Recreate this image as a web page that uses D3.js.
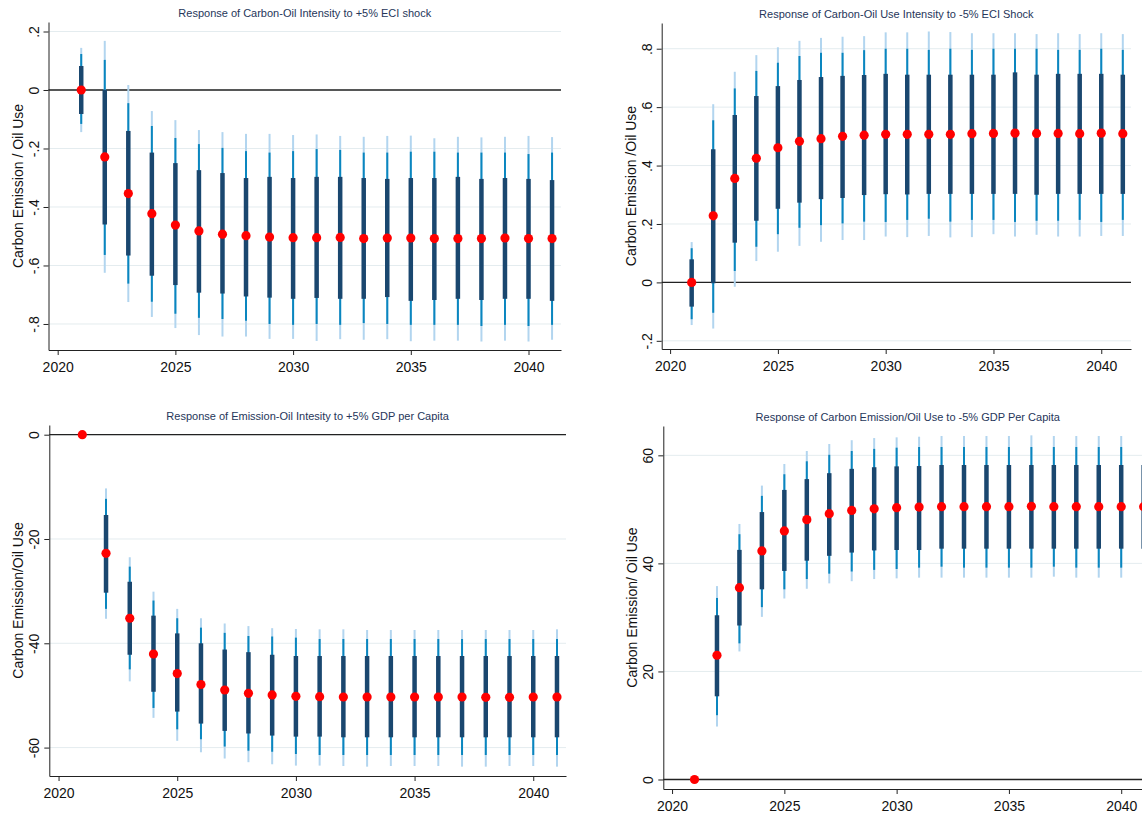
<!DOCTYPE html>
<html>
<head>
<meta charset="utf-8">
<script src="https://cdn.jsdelivr.net/npm/d3@7"></script>
<style>
  body { margin: 0; background: #ffffff; }
  svg { display: block; font-family: "Liberation Sans", Arial, Helvetica, sans-serif; }
</style>
</head>
<body>
<svg id="chart" width="1142" height="814"></svg>
<script>
// Horizon years of the impulse responses
const years = [2021, 2022, 2023, 2024, 2025, 2026, 2027, 2028, 2029, 2030, 2031,
               2032, 2033, 2034, 2035, 2036, 2037, 2038, 2039, 2040, 2041];
const xTickYears = [2020, 2025, 2030, 2035, 2040];

const panelTitles = [
  "Response of Carbon-Oil Intensity to +5% ECI shock",
  "Response of Carbon-Oil Use Intensity to -5% ECI Shock",
  "Response of Emission-Oil Intesity to +5% GDP per Capita",
  "Response of Carbon Emission/Oil Use to -5% GDP Per Capita"
];
const yTitles = [
  "Carbon Emission / Oil Use",
  "Carbon Emission /Oil Use",
  "Carbon Emission/Oil Use",
  "Carbon Emission/ Oil Use"
];

// y-axis ticks and their labels
const eciUpTicks = [0.2, 0, -0.2, -0.4, -0.6, -0.8];
const eciUpTickLabels = [".2", "0", "-.2", "-.4", "-.6", "-.8"];
const eciDownTicks = [0.8, 0.6, 0.4, 0.2, 0, -0.2];
const eciDownTickLabels = [".8", ".6", ".4", ".2", "0", "-.2"];
const gdpUpTicks = [0, -20, -40, -60];
const gdpUpTickLabels = ["0", "-20", "-40", "-60"];
const gdpDownTicks = [60, 40, 20, 0];
const gdpDownTickLabels = ["60", "40", "20", "0"];

// +5% ECI shock: point estimate and confidence bands
const eciUpEst  = [0, -0.229, -0.354, -0.423, -0.462, -0.482, -0.493, -0.498, -0.503, -0.505, -0.505, -0.504, -0.508, -0.506, -0.506, -0.508, -0.508, -0.508, -0.506, -0.508, -0.508];
const eciUpHi68 = [0.082, 0.000, -0.140, -0.214, -0.250, -0.274, -0.284, -0.301, -0.297, -0.301, -0.297, -0.297, -0.301, -0.304, -0.301, -0.301, -0.297, -0.304, -0.301, -0.304, -0.308];
const eciUpLo68 = [-0.082, -0.460, -0.566, -0.635, -0.667, -0.693, -0.696, -0.706, -0.710, -0.714, -0.711, -0.714, -0.714, -0.708, -0.721, -0.718, -0.714, -0.718, -0.714, -0.714, -0.721];
const eciUpHi90 = [0.123, 0.103, -0.045, -0.123, -0.164, -0.185, -0.198, -0.209, -0.214, -0.209, -0.202, -0.205, -0.214, -0.214, -0.211, -0.211, -0.214, -0.214, -0.214, -0.219, -0.214];
const eciUpLo90 = [-0.116, -0.564, -0.662, -0.724, -0.765, -0.779, -0.783, -0.789, -0.800, -0.803, -0.800, -0.803, -0.797, -0.800, -0.803, -0.803, -0.803, -0.807, -0.803, -0.807, -0.803];
const eciUpHi95 = [0.144, 0.168, 0.017, -0.072, -0.103, -0.137, -0.144, -0.150, -0.150, -0.154, -0.152, -0.157, -0.160, -0.157, -0.156, -0.165, -0.160, -0.162, -0.160, -0.157, -0.161];
const eciUpLo95 = [-0.144, -0.625, -0.725, -0.776, -0.814, -0.838, -0.843, -0.843, -0.851, -0.851, -0.858, -0.852, -0.854, -0.852, -0.859, -0.857, -0.857, -0.860, -0.857, -0.860, -0.854];

// -5% ECI shock
const eciDownEst  = [0, 0.228, 0.356, 0.425, 0.461, 0.483, 0.492, 0.500, 0.504, 0.507, 0.507, 0.507, 0.507, 0.509, 0.510, 0.511, 0.510, 0.510, 0.509, 0.511, 0.509];
const eciDownHi68 = [0.079, 0.456, 0.573, 0.638, 0.672, 0.693, 0.703, 0.707, 0.710, 0.714, 0.711, 0.711, 0.711, 0.711, 0.711, 0.719, 0.711, 0.714, 0.714, 0.714, 0.711];
const eciDownLo68 = [-0.083, -0.003, 0.136, 0.211, 0.252, 0.273, 0.285, 0.289, 0.299, 0.302, 0.301, 0.303, 0.303, 0.303, 0.303, 0.303, 0.300, 0.303, 0.303, 0.303, 0.303];
const eciDownHi90 = [0.117, 0.555, 0.664, 0.724, 0.752, 0.775, 0.786, 0.786, 0.795, 0.800, 0.800, 0.796, 0.800, 0.796, 0.800, 0.800, 0.800, 0.796, 0.796, 0.800, 0.796];
const eciDownLo90 = [-0.126, -0.104, 0.039, 0.122, 0.165, 0.187, 0.196, 0.202, 0.208, 0.207, 0.214, 0.218, 0.208, 0.214, 0.214, 0.207, 0.211, 0.211, 0.214, 0.207, 0.214];
const eciDownHi95 = [0.138, 0.610, 0.721, 0.778, 0.805, 0.827, 0.837, 0.841, 0.843, 0.856, 0.856, 0.859, 0.857, 0.853, 0.853, 0.853, 0.850, 0.853, 0.850, 0.853, 0.850];
const eciDownLo95 = [-0.146, -0.158, -0.015, 0.073, 0.105, 0.125, 0.139, 0.145, 0.145, 0.157, 0.155, 0.159, 0.154, 0.155, 0.165, 0.157, 0.163, 0.157, 0.157, 0.159, 0.159];

// +5% GDP per capita shock
const gdpUpEst  = [0, -22.75, -35.2, -42.05, -45.8, -47.9, -48.96, -49.6, -49.9, -50.17, -50.24, -50.3, -50.3, -50.3, -50.3, -50.3, -50.3, -50.36, -50.36, -50.3, -50.3];
const gdpUpHi68 = [0, -15.4, -28.2, -34.7, -38.1, -40.0, -41.2, -41.7, -42.2, -42.44, -42.44, -42.44, -42.44, -42.44, -42.44, -42.44, -42.44, -42.44, -42.44, -42.44, -42.44];
const gdpUpLo68 = [0, -30.3, -42.2, -49.3, -53.1, -55.4, -56.8, -57.3, -57.7, -57.9, -57.9, -58.03, -58.03, -58.03, -58.03, -58.03, -58.03, -58.03, -58.03, -58.03, -58.03];
const gdpUpHi90 = [0, -12.3, -25.3, -31.8, -35.2, -37.0, -38.0, -38.6, -38.7, -38.92, -39.18, -39.18, -39.18, -39.18, -39.18, -39.18, -39.18, -39.18, -39.18, -39.18, -39.18];
const gdpUpLo90 = [0, -33.4, -45.0, -52.4, -56.5, -58.4, -59.8, -60.6, -60.8, -61.23, -61.42, -61.42, -61.42, -61.42, -61.42, -61.42, -61.42, -61.42, -61.42, -61.42, -61.42];
const gdpUpHi95 = [0, -10.3, -23.5, -30.1, -33.4, -35.2, -36.2, -36.7, -37.1, -37.26, -37.32, -37.32, -37.45, -37.45, -37.45, -37.45, -37.45, -37.45, -37.45, -37.45, -37.32];
const gdpUpLo95 = [0, -35.3, -47.3, -54.3, -58.7, -60.9, -62.1, -62.8, -63.2, -63.46, -63.46, -63.53, -63.66, -63.53, -63.53, -63.53, -63.66, -63.66, -63.53, -63.53, -63.66];

// -5% GDP per capita shock
const gdpDownEst  = [0, 23.0, 35.5, 42.3, 46.0, 48.1, 49.2, 49.8, 50.1, 50.31, 50.43, 50.5, 50.5, 50.5, 50.5, 50.56, 50.5, 50.5, 50.5, 50.5, 50.5];
const gdpDownHi68 = [0, 30.4, 42.5, 49.5, 53.6, 55.6, 56.7, 57.5, 57.8, 57.96, 58.02, 58.21, 58.21, 58.21, 58.21, 58.21, 58.21, 58.21, 58.21, 58.21, 58.21];
const gdpDownLo68 = [0, 15.4, 28.5, 35.2, 38.6, 40.5, 41.4, 42.0, 42.4, 42.48, 42.48, 42.72, 42.72, 42.72, 42.72, 42.72, 42.72, 42.72, 42.72, 42.72, 42.72];
const gdpDownHi90 = [0, 33.6, 45.4, 52.5, 56.5, 58.9, 60.1, 60.8, 61.2, 61.42, 61.54, 61.54, 61.54, 61.54, 61.54, 61.54, 61.54, 61.54, 61.54, 61.54, 61.54];
const gdpDownLo90 = [0, 11.9, 25.2, 31.9, 35.2, 37.1, 38.1, 38.5, 38.8, 38.96, 39.21, 39.39, 39.21, 39.21, 39.21, 39.21, 39.39, 39.21, 39.21, 39.21, 39.21];
const gdpDownHi95 = [0, 35.8, 47.3, 54.4, 58.4, 60.8, 62.1, 62.8, 63.2, 63.33, 63.45, 63.58, 63.58, 63.58, 63.58, 63.70, 63.58, 63.58, 63.58, 63.58, 63.58];
const gdpDownLo95 = [0, 9.8, 23.7, 30.1, 33.5, 35.3, 36.3, 36.7, 37.1, 37.23, 37.36, 37.36, 37.36, 37.36, 37.36, 37.36, 37.54, 37.36, 37.36, 37.36, 37.36];

// Colours
const COL_68 = "#1a476f";
const COL_90 = "#0a86bf";
const COL_95 = "#b2d5ef";
const COL_PT = "#ff0000";
const COL_GRID = "#e4ecef";
const COL_AXIS = "#222222";
const COL_TITLE = "#26365a";

const xDomain = [2019.61, 2041.38];

function rows(est, lo68, hi68, lo90, hi90, lo95, hi95) {
  return years.map((yr, i) => ({
    year: yr, est: est[i],
    lo68: lo68[i], hi68: hi68[i],
    lo90: lo90[i], hi90: hi90[i],
    lo95: lo95[i], hi95: hi95[i]
  }));
}

const panels = [
  { title: panelTitles[0], ylab: yTitles[0], ticks: eciUpTicks, tickLabels: eciUpTickLabels,
    yDomain: [-0.889, 0.2325], box: { l: 48.5, t: 22, r: 561, b: 350 },
    data: rows(eciUpEst, eciUpLo68, eciUpHi68, eciUpLo90, eciUpHi90, eciUpLo95, eciUpHi95) },
  { title: panelTitles[1], ylab: yTitles[1], ticks: eciDownTicks, tickLabels: eciDownTickLabels,
    yDomain: [-0.228, 0.888], box: { l: 661.7, t: 23, r: 1131, b: 349 },
    data: rows(eciDownEst, eciDownLo68, eciDownHi68, eciDownLo90, eciDownHi90, eciDownLo95, eciDownHi95) },
  { title: panelTitles[2], ylab: yTitles[2], ticks: gdpUpTicks, tickLabels: gdpUpTickLabels,
    yDomain: [-65.45, 1.86], box: { l: 49.3, t: 425, r: 566, b: 776 },
    data: rows(gdpUpEst, gdpUpLo68, gdpUpHi68, gdpUpLo90, gdpUpHi90, gdpUpLo95, gdpUpHi95) },
  { title: panelTitles[3], ylab: yTitles[3], ticks: gdpDownTicks, tickLabels: gdpDownTickLabels,
    yDomain: [-1.76, 65.43], box: { l: 663.3, t: 426, r: 1152.2, b: 789 },
    data: rows(gdpDownEst, gdpDownLo68, gdpDownHi68, gdpDownLo90, gdpDownHi90, gdpDownLo95, gdpDownHi95) }
];

const svg = d3.select("#chart");
svg.append("rect").attr("width", 1142).attr("height", 814).attr("fill", "#ffffff");

function drawPanel(p) {
  const g = svg.append("g");
  const b = p.box;
  const x = d3.scaleLinear().domain(xDomain).range([b.l, b.r]);
  const y = d3.scaleLinear().domain(p.yDomain).range([b.b, b.t]);

  // horizontal grid lines at the labelled ticks
  g.append("g").selectAll("line").data(p.ticks).join("line")
    .attr("x1", b.l).attr("x2", b.r)
    .attr("y1", d => y(d)).attr("y2", d => y(d))
    .attr("stroke", COL_GRID).attr("stroke-width", 1);

  // reference line at zero
  g.append("line")
    .attr("x1", b.l).attr("x2", b.r)
    .attr("y1", y(0)).attr("y2", y(0))
    .attr("stroke", COL_AXIS).attr("stroke-width", 1.3);

  // confidence bands, widest first
  const bands = [
    { lo: "lo95", hi: "hi95", color: COL_95, w: 2 },
    { lo: "lo90", hi: "hi90", color: COL_90, w: 2 },
    { lo: "lo68", hi: "hi68", color: COL_68, w: 4.5 }
  ];
  bands.forEach(bd => {
    g.append("g").selectAll("line").data(p.data).join("line")
      .attr("x1", d => x(d.year)).attr("x2", d => x(d.year))
      .attr("y1", d => y(d[bd.lo])).attr("y2", d => y(d[bd.hi]))
      .attr("stroke", bd.color).attr("stroke-width", bd.w);
  });

  // point estimates
  g.append("g").selectAll("circle").data(p.data).join("circle")
    .attr("cx", d => x(d.year)).attr("cy", d => y(d.est))
    .attr("r", 4.6).attr("fill", COL_PT);

  // y axis with vertical tick labels
  const yAxis = d3.axisLeft(y).tickValues(p.ticks)
    .tickFormat((d, i) => p.tickLabels[i]).tickSize(5).tickSizeOuter(0);
  const ya = g.append("g").attr("transform", `translate(${b.l},0)`).call(yAxis);
  ya.select(".domain").attr("stroke", COL_AXIS);
  ya.selectAll(".tick line").attr("stroke", COL_AXIS);
  ya.selectAll(".tick text")
    .attr("x", null).attr("dy", null)
    .attr("transform", "translate(-10,0) rotate(-90)")
    .attr("text-anchor", "middle")
    .attr("font-size", 14).attr("fill", "#111")
    .attr("font-family", "Liberation Sans, Arial, sans-serif");

  // x axis
  const xAxis = d3.axisBottom(x).tickValues(xTickYears)
    .tickFormat(d3.format("d")).tickSize(5).tickSizeOuter(0);
  const xa = g.append("g").attr("transform", `translate(0,${b.b})`).call(xAxis);
  xa.select(".domain").attr("stroke", COL_AXIS);
  xa.selectAll(".tick line").attr("stroke", COL_AXIS);
  xa.selectAll(".tick text")
    .attr("y", 12)
    .attr("font-size", 14).attr("fill", "#111")
    .attr("font-family", "Liberation Sans, Arial, sans-serif");

  // panel title
  g.append("text")
    .attr("x", (b.l + b.r) / 2).attr("y", b.t - 5)
    .attr("text-anchor", "middle")
    .attr("font-size", 11).attr("fill", COL_TITLE)
    .text(p.title);

  // y axis title
  g.append("text")
    .attr("transform", `translate(${b.l - 26},${(b.t + b.b) / 2}) rotate(-90)`)
    .attr("text-anchor", "middle")
    .attr("font-size", 14).attr("fill", "#111")
    .text(p.ylab);
}

panels.forEach(drawPanel);
</script>
</body>
</html>
